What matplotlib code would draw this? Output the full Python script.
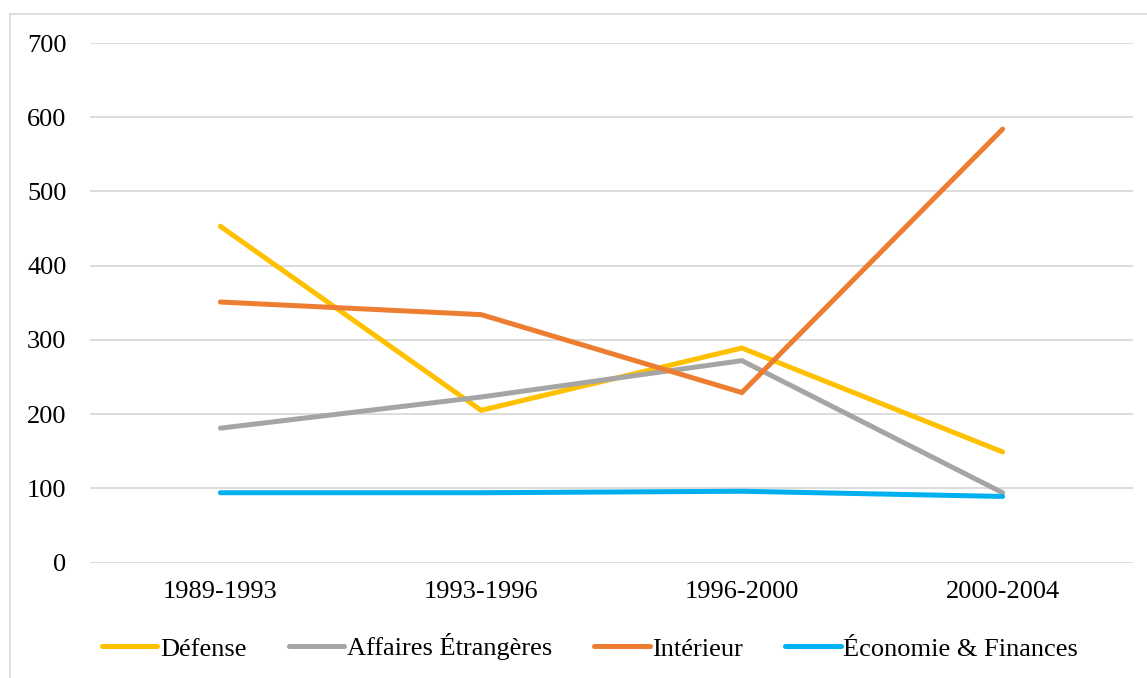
import matplotlib
matplotlib.use("Agg")
import matplotlib.pyplot as plt
from matplotlib.lines import Line2D

periods = ["1989-1993", "1993-1996", "1996-2000", "2000-2004"]
defense = [453, 205, 289, 149]
affaires_etrangeres = [181, 223, 272, 94]
interieur = [351, 334, 229, 584]
economie_finances = [94, 94, 96, 89]

series = [
    ("Défense", defense, "#FFC000"),
    ("Affaires Étrangères", affaires_etrangeres, "#A5A5A5"),
    ("Intérieur", interieur, "#ED7D31"),
    ("Économie & Finances", economie_finances, "#00B0F0"),
]

plt.rcParams["font.family"] = ["Liberation Serif", "DejaVu Serif"]

W, H = 1147, 678
fig = plt.figure(figsize=(W / 100, H / 100), dpi=100)
ax = fig.add_axes([90 / W, 1 - 562.5 / H, (1133 - 90) / W, (562.5 - 43) / H])

x = list(range(len(periods)))
for name, vals, color in series:
    ax.plot(x, vals, color=color, lw=3.6, solid_capstyle="round",
            solid_joinstyle="miter", label=name, zorder=3)

ax.set_xlim(-0.5, len(periods) - 0.5)
ax.set_ylim(0, 700)
ax.set_yticks(range(0, 701, 100))
ax.set_xticks(x)
ax.set_xticklabels(periods)
ax.grid(axis="y", color="#D9D9D9", lw=1.3, zorder=0)
for s in ["top", "right", "left", "bottom"]:
    ax.spines[s].set_visible(False)
ax.tick_params(axis="both", length=0, labelsize=19, colors="black")
ax.tick_params(axis="y", pad=17)
ax.tick_params(axis="x", pad=13)

# chart frame (top and left edges visible)
fig.add_artist(Line2D([9.5 / W, 1.0], [1 - 14 / H, 1 - 14 / H], transform=fig.transFigure,
                      color="#D9D9D9", lw=1.2))
fig.add_artist(Line2D([9.5 / W, 9.5 / W], [0, 1 - 14 / H], transform=fig.transFigure,
                      color="#D9D9D9", lw=1.2))

handles, labels = ax.get_legend_handles_labels()
fig.legend(handles, labels, loc="center", bbox_to_anchor=(590 / W, 1 - 647 / H),
           ncol=4, frameon=False, fontsize=19, handlelength=2.1, handletextpad=0.1,
           columnspacing=1.6)

fig.savefig("out.png", dpi=100)
